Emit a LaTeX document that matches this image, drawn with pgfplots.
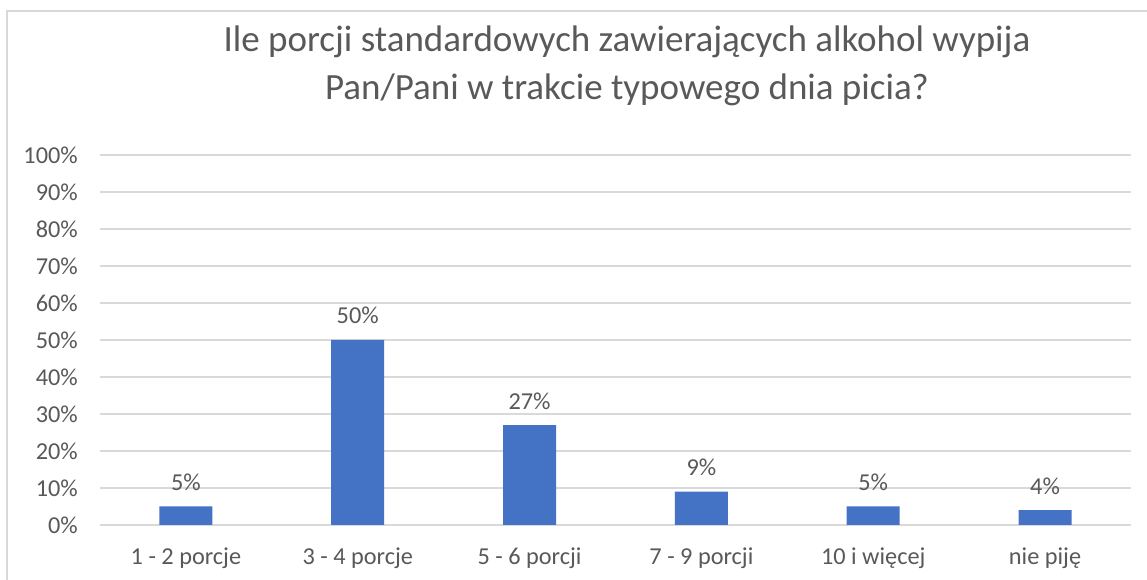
\documentclass[border=0pt]{standalone}
\usepackage{pgfplots}
\pgfplotsset{compat=1.18}
\usepackage{fontspec}
\setmainfont{Carlito}
\definecolor{barblue}{HTML}{4472C4}
\definecolor{txtgrey}{HTML}{595959}
\definecolor{gridgrey}{HTML}{D9D9D9}

\begin{document}
\begin{tikzpicture}
\useasboundingbox (-100pt,-55pt) rectangle (1047pt,525pt);
\clip (-100pt,-55pt) rectangle (1047pt,525pt);
\fill[white] (-100pt,-55pt) rectangle (1047pt,525pt);
\draw[gridgrey, line width=1.2pt] (-93pt,-80pt) rectangle (1200pt,514pt);
\begin{axis}[
at={(0,0)}, anchor=south west,
width=1031pt, height=370pt, scale only axis,
ymin=0, ymax=100,
xmin=-0.5, xmax=5.5,
ytick={0,10,...,100},
yticklabel={\pgfmathprintnumber{\tick}\%},
xtick={0,1,2,3,4,5},
xticklabels={1 - 2 porcje, 3 - 4 porcje, 5 - 6 porcji, 7 - 9 porcji, 10 i więcej, nie piję},
/pgf/number format/assume math mode=true,
axis line style={draw=none},
major tick length=0pt,
ymajorgrids, grid style={gridgrey, line width=1.2pt},
tick label style={font=\fontsize{24.3}{29}\selectfont, text=txtgrey},
yticklabel style={anchor=east, inner sep=0pt, xshift=-22pt},
xticklabel style={anchor=base, inner sep=0pt, yshift=-39pt},
ybar, bar width=53pt,
nodes near coords={\pgfmathprintnumber{\pgfplotspointmeta}\%},
every node near coord/.append style={anchor=base, inner sep=0pt, yshift=16pt, font=\fontsize{24.3}{29}\selectfont, text=txtgrey},
]
\addplot[fill=barblue, draw=none] coordinates {(0,5) (1,50) (2,27) (3,9) (4,5) (5,4)};
\end{axis}
\node[anchor=base, text=txtgrey, font=\fontsize{37}{44}\selectfont] at (527pt,473pt) {Ile porcji standardowych zawierających alkohol wypija};
\node[anchor=base, text=txtgrey, font=\fontsize{37}{44}\selectfont] at (527pt,425pt) {Pan/Pani w trakcie typowego dnia picia?};
\end{tikzpicture}
\end{document}
